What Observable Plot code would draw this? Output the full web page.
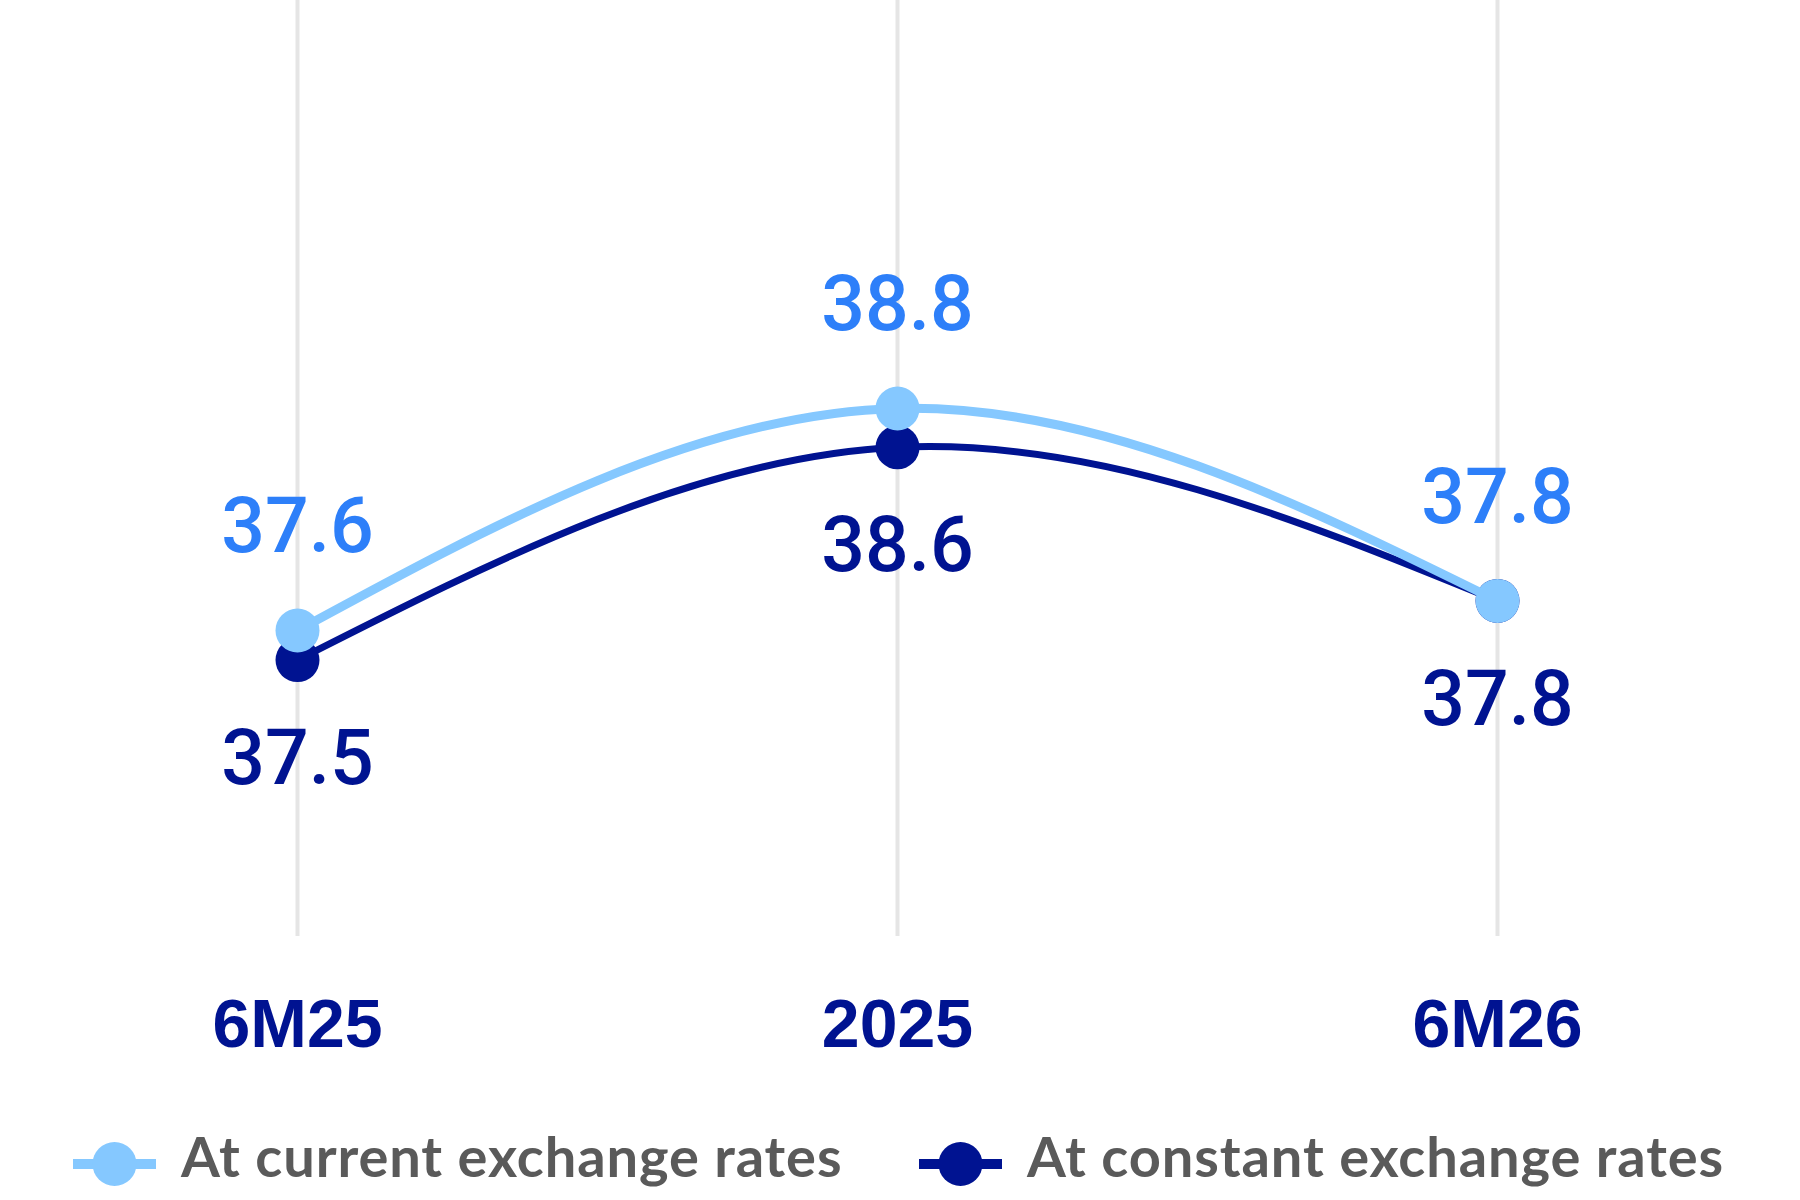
<!DOCTYPE html>
<html>
<head>
<meta charset="utf-8">
<script src="https://cdn.jsdelivr.net/npm/d3@7"></script>
<script src="https://cdn.jsdelivr.net/npm/@observablehq/plot@0.6"></script>
<style>
  html, body { margin: 0; padding: 0; background: #fff; }
  #wrap { width: 1800px; height: 1200px; position: relative; overflow: hidden; }
</style>
</head>
<body>
<div id="wrap"></div>
<script>
// ---- data ----
const periods = ["6M25", "2025", "6M26"];
const currentRates = [37.62, 38.82, 37.78];   // At current exchange rates
const constantRates = [37.46, 38.61, 37.78];  // At constant exchange rates
const seriesNames = ["At current exchange rates", "At constant exchange rates"];

const colLight = "#85C8FF";
const colLabelLight = "#2D7FF9";
const colNavy = "#001391";

const current = periods.map((p, i) => ({period: p, value: currentRates[i]}));
const constant = periods.map((p, i) => ({period: p, value: constantRates[i]}));

const yDomain = [35.966, 41.025];

const chart = Plot.plot({
  width: 1800,
  height: 1110,
  marginTop: 0,
  marginBottom: 174,
  marginLeft: 297,
  marginRight: 303,
  style: {background: "#fff"},
  x: {type: "point", domain: periods, padding: 0, label: null},
  y: {domain: yDomain, axis: null},
  marks: [
    Plot.ruleX(periods, {x: d => d, y1: yDomain[0], y2: yDomain[1], stroke: "#E5E5E5", strokeWidth: 4}),
    Plot.axisX({tickSize: 0, tickPadding: 62, fontSize: 68, fontWeight: 700,
      fontFamily: "Liberation Sans", fill: colNavy, label: null}),
    Plot.line(constant, {x: "period", y: "value", stroke: colNavy, strokeWidth: 7, curve: "natural"}),
    Plot.dot(constant, {x: "period", y: "value", r: 22, fill: colNavy}),
    Plot.line(current, {x: "period", y: "value", stroke: colLight, strokeWidth: 9, curve: "natural"}),
    Plot.dot(current, {x: "period", y: "value", r: 22, fill: colLight}),
    Plot.text(current, {x: "period", y: "value", text: d => d.value.toFixed(1), dy: -103,
      fill: colLabelLight, fontSize: 77, fontWeight: 500, fontFamily: "Roboto"}),
    Plot.text(constant, {x: "period", y: "value", text: d => d.value.toFixed(1), dy: 99,
      fill: colNavy, fontSize: 77, fontWeight: 500, fontFamily: "Roboto"})
  ]
});
document.getElementById("wrap").appendChild(chart);

// ---- legend (below the chart) ----
const legendItems = [
  {name: seriesNames[0], color: colLight, x: 73},
  {name: seriesNames[1], color: colNavy, x: 919}
];
const ns = "http://www.w3.org/2000/svg";
const leg = document.createElementNS(ns, "svg");
leg.setAttribute("width", 1800);
leg.setAttribute("height", 90);
leg.style.position = "absolute";
leg.style.left = "0px";
leg.style.top = "1110px";
legendItems.forEach(it => {
  const cy = 54;
  const line = document.createElementNS(ns, "line");
  line.setAttribute("x1", it.x); line.setAttribute("x2", it.x + 83);
  line.setAttribute("y1", cy); line.setAttribute("y2", cy);
  line.setAttribute("stroke", it.color); line.setAttribute("stroke-width", 10);
  leg.appendChild(line);
  const c = document.createElementNS(ns, "circle");
  c.setAttribute("cx", it.x + 41.5); c.setAttribute("cy", cy); c.setAttribute("r", 22);
  c.setAttribute("fill", it.color);
  leg.appendChild(c);
  const t = document.createElementNS(ns, "text");
  t.setAttribute("x", it.x + 108); t.setAttribute("y", 67);
  t.setAttribute("fill", "#5A5A5A");
  t.setAttribute("font-family", "Lato");
  t.setAttribute("font-weight", 700);
  t.setAttribute("font-size", 56);
  t.setAttribute("letter-spacing", "0.9");
  t.textContent = it.name;
  leg.appendChild(t);
});
document.getElementById("wrap").appendChild(leg);
</script>
</body>
</html>
